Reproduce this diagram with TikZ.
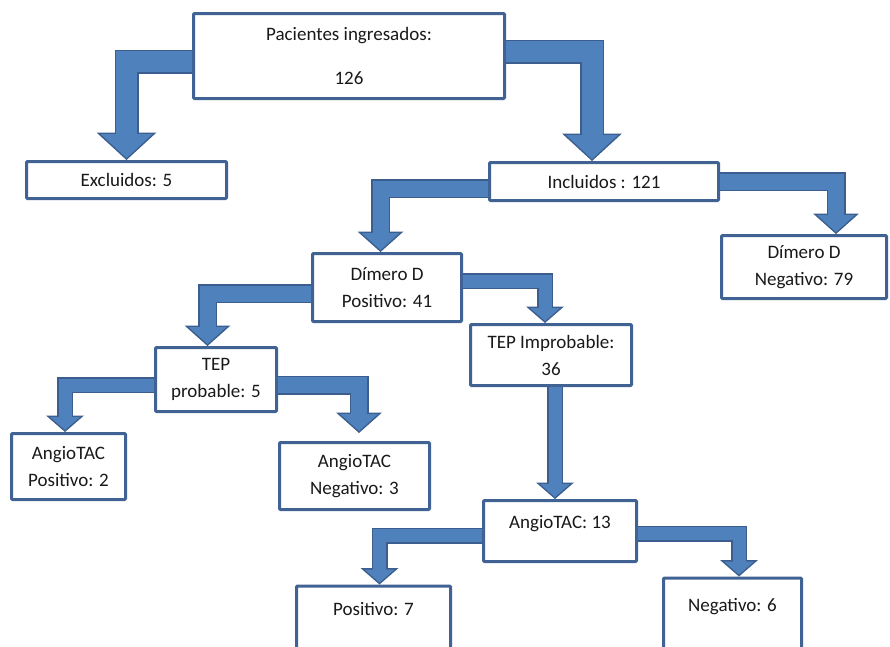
\documentclass[tikz,border=0pt]{standalone}
\usepackage{fontspec}
\setmainfont{Carlito}
\usetikzlibrary{arrows.meta}
\definecolor{boxb}{rgb}{0.25,0.39,0.58}
\definecolor{arrowb}{rgb}{0.31,0.51,0.74}
\definecolor{arrowe}{rgb}{0.23,0.37,0.56}
\tikzset{
  caja/.style={draw=boxb, line width=3pt, fill=white, rounded corners=1pt, align=center,
    inner sep=0pt, text=black!90, font=\fontsize{19}{27}\selectfont},
  flechaA/.style={draw=arrowb, line width=21pt, shorten >=2pt,
    -{Triangle[width=52pt, length=24pt, line width=0pt]},
    preaction={draw=arrowe, line width=24pt, shorten >=0pt,
      -{Triangle[width=60pt, length=27.5pt, line width=0pt]}}},
  flechaB/.style={draw=arrowb, line width=16pt, shorten >=2pt,
    -{Triangle[width=38pt, length=17pt, line width=0pt]},
    preaction={draw=arrowe, line width=19pt, shorten >=0pt,
      -{Triangle[width=46pt, length=20.5pt, line width=0pt]}}},
  flechaC/.style={draw=arrowb, line width=13pt, shorten >=2pt,
    -{Triangle[width=30pt, length=13pt, line width=0pt]},
    preaction={draw=arrowe, line width=16pt, shorten >=0pt,
      -{Triangle[width=38pt, length=16.5pt, line width=0pt]}}}
}
\begin{document}
\begin{tikzpicture}[x=1pt,y=-1pt]
\clip (0,0) rectangle (890,646);
\node[caja, minimum width=311, minimum height=85] (1) at (349,56) {Pacientes ingresados:\\[17pt]126};
  \node[caja, minimum width=200, minimum height=37] (2) at (126.5,180) {Excluidos: 5};
  \node[caja, minimum width=229, minimum height=38] (3) at (604,181.5) {Incluidos : 121};
  \node[caja, minimum width=165, minimum height=63] (4) at (804,267) {Dímero D\\Negativo: 79};
  \node[caja, minimum width=149, minimum height=68] (5) at (387,287.5) {Dímero D\\Positivo: 41};
  \node[caja, minimum width=121, minimum height=64] (6) at (216,379.5) {TEP\\probable: 5};
  \node[caja, minimum width=161, minimum height=61] (7) at (551,355) {TEP Improbable:\\36};
  \node[caja, minimum width=114, minimum height=66] (8) at (68.5,466.5) {AngioTAC\\Positivo: 2};
  \node[caja, minimum width=150, minimum height=67] (9) at (354.5,476) {AngioTAC\\Negativo: 3};
  \node[caja, minimum width=153, minimum height=61, text depth=18pt] (10) at (560,531) {AngioTAC: 13};
  \node[caja, minimum width=154, inner ysep=16pt, text depth=60pt, anchor=north] (11) at (373.5,584.5) {Positivo: 7};
  \node[caja, minimum width=138, inner ysep=20pt, text depth=60pt, anchor=north] (12) at (732.5,576.5) {Negativo: 6};
\draw[flechaA] ([yshift=-5.5pt]1.west) -| (2.north);
\draw[flechaA] ([yshift=4.5pt]1.east) -| ([xshift=-12pt]3.north);
\draw[flechaB] ([yshift=-7pt]3.west) -| ([xshift=-6.5pt]5.north);
\draw[flechaB] (3.east) -| ([xshift=32pt]4.north);
\draw[flechaB] ([yshift=-6pt]5.west) -| ([xshift=-8.5pt]6.north);
\draw[flechaC] ([yshift=6.5pt]5.east) -| ([xshift=-6pt]7.north);
\draw[flechaC] ([yshift=-5.5pt]6.west) -| ([xshift=-3.5pt]8.north);
\draw[flechaB] ([yshift=-5.5pt]6.east) -| ([xshift=4.5pt,yshift=8pt]9.north);
\draw[flechaC] ([xshift=4pt]7.south) -- ([xshift=-5pt]10.north);
\draw[flechaC] ([yshift=-4.5pt]10.west) -| ([xshift=6pt]11.north);
\draw[flechaC] ([yshift=-2.5pt]10.east) -| ([xshift=6.5pt]12.north);
\end{tikzpicture}
\end{document}
